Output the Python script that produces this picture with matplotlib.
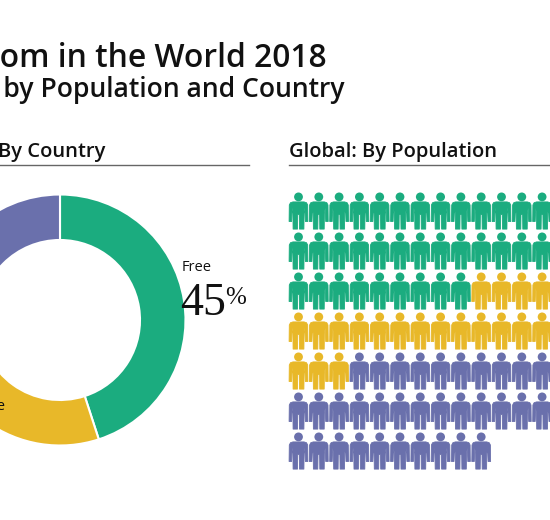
"""Freedom in the World 2018: global status by country (donut) and by population (icons)."""

import matplotlib
matplotlib.use('Agg')
import matplotlib.pyplot as plt
from matplotlib.patches import Circle, Polygon

# Data
status_labels = ['Free', 'Partly Free', 'Not Free']
country_share = [45, 30, 25]      # percent of countries
population_share = [39, 24, 37]   # percent of world population (one icon = 1%)
status_colors = ['#1bac7f', '#e8b829', '#6a70ac']

title = 'Freedom in the World 2018'
subtitle = 'Global Freedom Status by Population and Country'
left_header = 'Global: By Country'
right_header = 'Global: By Population'

W, H = 550, 520
fig = plt.figure(figsize=(W / 100, H / 100), dpi=100)

# Donut: by country (drawn first so the overlay text sits on top)
cx, cy, r_out, r_in = 60, 320, 125.5, 80
dax = fig.add_axes([(cx - r_out) / W, (H - cy - r_out) / H, 2 * r_out / W, 2 * r_out / H])
dax.pie(country_share, colors=status_colors, startangle=90, counterclock=False,
        wedgeprops=dict(width=(r_out - r_in) / r_out, edgecolor='white', linewidth=1.5))
dax.set_xlim(-1, 1)
dax.set_ylim(-1, 1)
dax.set_aspect('equal')
dax.axis('off')

# Overlay axes in pixel units (y down) for text, rules and icons
ax = fig.add_axes([0, 0, 1, 1])
ax.set_xlim(0, W)
ax.set_ylim(H, 0)
ax.axis('off')

sans = ['Open Sans', 'DejaVu Sans']
renderer = fig.canvas.get_renderer()


def fit_size(s, width_px, weight):
    """Font size that makes string s about width_px wide."""
    t = ax.text(0, 0, s, fontsize=20, family=sans, fontweight=weight)
    w = t.get_window_extent(renderer).width
    t.remove()
    return 20 * width_px / w


title_size = fit_size('om in the World 2018', 326, 'semibold')
sub_size = fit_size('by Population and Country', 341, 'semibold')
head_size = fit_size(right_header, 208, 'semibold')

ax.text(327, 67, title, ha='right', va='baseline', fontsize=title_size,
        fontweight='semibold', family=sans, color='#111111')
ax.text(345, 97.5, subtitle, ha='right', va='baseline', fontsize=sub_size,
        fontweight='semibold', family=sans, color='#111111')

ax.text(105, 156.5, left_header, ha='right', va='baseline', fontsize=head_size,
        fontweight='semibold', family=sans, color='#111111')
ax.text(289, 156.5, right_header, ha='left', va='baseline', fontsize=head_size,
        fontweight='semibold', family=sans, color='#111111')
ax.plot([-5, 249], [164.5, 164.5], color='#666666', lw=1)
ax.plot([289, 560], [164.5, 164.5], color='#666666', lw=1)

ax.text(182, 271, status_labels[0], ha='left', va='baseline', fontsize=10.5,
        family=sans, color='#111111')
ax.text(180, 315, f'{country_share[0]}', ha='left', va='baseline', fontsize=33,
        family=['Liberation Serif'], color='#111111')
ax.text(225, 304, '%', ha='left', va='baseline', fontsize=18,
        family=['Liberation Serif'], color='#111111')
ax.text(5.5, 410, status_labels[1], ha='right', va='baseline', fontsize=10.5,
        family=sans, color='#111111')

# Icon grid: by population
ncols = 15
x0, y0, dx, dy = 298.5, 192.5, 20.3, 40
head_r = 4.4
body = [(-5.5, 9.4), (5.5, 9.4), (8.0, 10.2), (9.2, 12.5), (9.4, 29), (6.9, 29),
        (6.4, 15.5), (5.6, 21), (5.4, 36.6), (1.0, 36.6), (0.8, 22), (-0.8, 22),
        (-1.0, 36.6), (-5.4, 36.6), (-5.6, 21), (-6.4, 15.5), (-6.9, 29),
        (-9.4, 29), (-9.2, 12.5), (-8.0, 10.2)]

icon_colors = []
for share, color in zip(population_share, status_colors):
    icon_colors += [color] * share

for i, color in enumerate(icon_colors):
    px = x0 + (i % ncols) * dx
    py = y0 + (i // ncols) * dy
    ax.add_patch(Circle((px, py + head_r), head_r, facecolor=color, edgecolor='none'))
    ax.add_patch(Polygon([(px + bx, py + by) for bx, by in body], closed=True,
                         facecolor=color, edgecolor=color, lw=0.6, joinstyle='round'))

fig.savefig('out.png', dpi=100)
